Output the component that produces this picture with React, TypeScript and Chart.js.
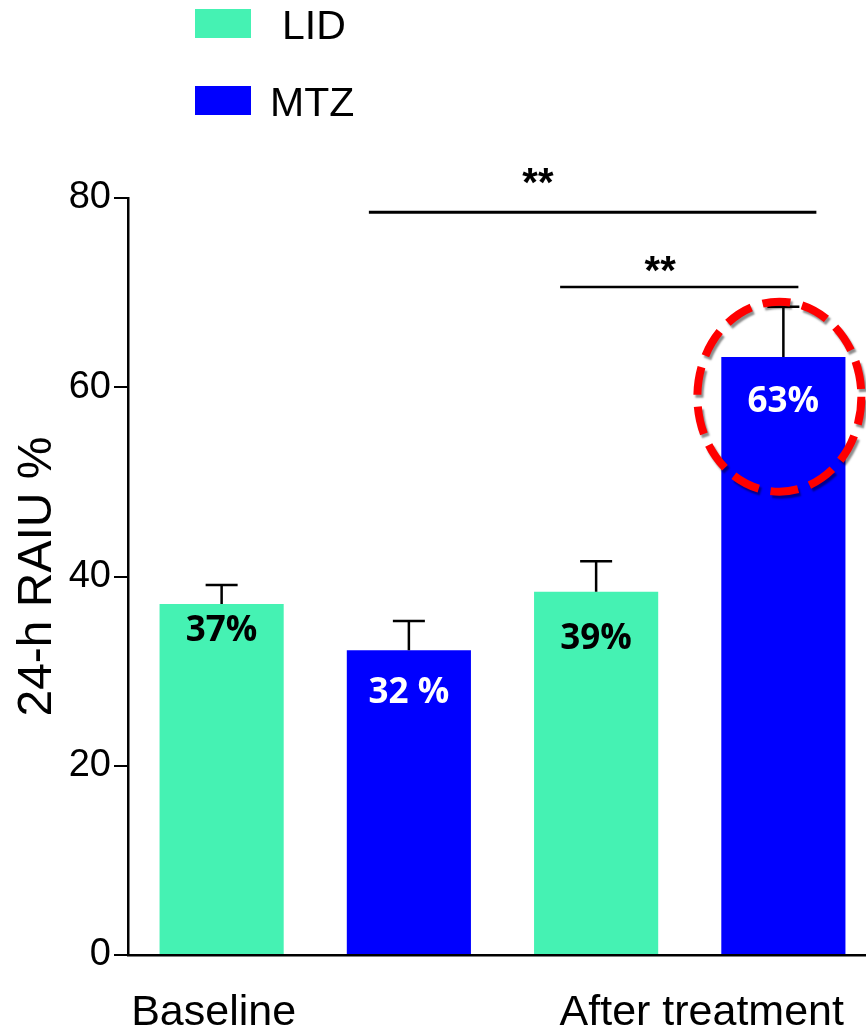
import React, { useEffect, useRef } from 'react';
import { Chart, registerables } from 'chart.js';

Chart.register(...registerables);

const categories = ['Baseline', 'After treatment'];
const seriesNames = ['LID', 'MTZ'];
const lidValues = [37.1, 38.4];
const mtzValues = [32.2, 63.2];
const lidErrors = [2.0, 3.2];
const mtzErrors = [3.1, 5.3];
const lidLabels = ['37%', '39%'];
const mtzLabels = ['32 %', '63%'];
const yTicks = [0, 20, 40, 60, 80];
const sigLevels = [78.5, 70.6];
const sigTexts = ['**', '**'];
const highlightValue = 59.0;

const FONT = "'Liberation Sans', Arial, sans-serif";
const LABEL_FONT = "'Open Sans', 'Noto Sans', sans-serif";
const LID_COLOR = '#45F2B3';
const MTZ_COLOR = '#0000FF';

const annotationsPlugin = {
  id: 'annotations',
  afterDatasetsDraw(chart: any) {
    const ctx = chart.ctx;
    const y = chart.scales.y;
    const errs = [lidErrors, mtzErrors];
    const vals = [lidValues, mtzValues];
    const labels = [lidLabels, mtzLabels];
    const labelColors = ['#000000', '#FFFFFF'];
    const labelOffsets = [[27, 47], [43, 45]];
    ctx.save();
    for (let d = 0; d < 2; d++) {
      const meta = chart.getDatasetMeta(d);
      meta.data.forEach((el: any, i: number) => {
        const top = y.getPixelForValue(vals[d][i] + errs[d][i]);
        ctx.strokeStyle = '#000';
        ctx.lineWidth = 2.5;
        ctx.beginPath();
        ctx.moveTo(el.x, el.y);
        ctx.lineTo(el.x, top);
        ctx.moveTo(el.x - 16, top);
        ctx.lineTo(el.x + 16, top);
        ctx.stroke();
      });
    }
    ctx.textAlign = 'center';
    ctx.textBaseline = 'middle';
    ctx.font = `bold 35px ${LABEL_FONT}`;
    for (let d = 0; d < 2; d++) {
      const meta = chart.getDatasetMeta(d);
      meta.data.forEach((el: any, i: number) => {
        ctx.fillStyle = labelColors[d];
        ctx.fillText(labels[d][i], el.x, el.y + labelOffsets[d][i]);
      });
    }
    ctx.restore();
  },
  afterDraw(chart: any) {
    const ctx = chart.ctx;
    const y = chart.scales.y;
    const x = chart.scales.x;
    const m0 = chart.getDatasetMeta(0).data;
    const m1 = chart.getDatasetMeta(1).data;
    ctx.save();
    const brackets = [
      { x1: m1[0].x - 40, x2: m1[1].x + 33, sx: m1[0].x + 129, gap: 16 },
      { x1: m0[1].x - 36, x2: m1[1].x + 15, sx: m0[1].x + 64, gap: 3 },
    ];
    brackets.forEach((b, i) => {
      const ly = y.getPixelForValue(sigLevels[i]);
      ctx.strokeStyle = '#000';
      ctx.lineWidth = i === 0 ? 3 : 2.5;
      ctx.beginPath();
      ctx.moveTo(b.x1, ly);
      ctx.lineTo(b.x2, ly);
      ctx.stroke();
      ctx.fillStyle = '#000';
      ctx.font = `bold 40px ${FONT}`;
      ctx.textAlign = 'center';
      ctx.textBaseline = 'alphabetic';
      ctx.fillText(sigTexts[i], b.sx, ly - b.gap);
    });
    ctx.font = `43px ${FONT}`;
    ctx.fillStyle = '#000';
    ctx.textAlign = 'center';
    ctx.textBaseline = 'alphabetic';
    const lx = [m0[0].x - 8, x.getPixelForValue(1) + 12];
    categories.forEach((c, i) => {
      ctx.fillText(c, lx[i], chart.chartArea.bottom + 70);
    });
    const colors = [LID_COLOR, MTZ_COLOR];
    const textDx = [31, 19];
    seriesNames.forEach((n, i) => {
      const top = 9 + i * 77;
      ctx.fillStyle = colors[i];
      ctx.fillRect(195, top, 56, 29);
      ctx.fillStyle = '#000';
      ctx.font = `41px ${FONT}`;
      ctx.textAlign = 'left';
      ctx.fillText(n, 251 + textDx[i], top + 30);
    });
    const cx = m1[1].x - 4;
    const cy = y.getPixelForValue(highlightValue);
    ctx.shadowColor = 'rgba(0,0,0,0.45)';
    ctx.shadowOffsetX = 2;
    ctx.shadowOffsetY = 3;
    ctx.shadowBlur = 2;
    ctx.strokeStyle = '#FF0000';
    ctx.lineWidth = 8;
    ctx.setLineDash([28, 12]);
    ctx.beginPath();
    ctx.ellipse(cx, cy, 82, 95, 0, 0, Math.PI * 2);
    ctx.stroke();
    ctx.restore();
  },
};

export default function App() {
  const ref = useRef<HTMLCanvasElement | null>(null);
  useEffect(() => {
    if (!ref.current) return;
    const chart = new Chart(ref.current, {
      type: 'bar',
      data: {
        labels: categories,
        datasets: [
          {
            label: seriesNames[0],
            data: lidValues,
            backgroundColor: LID_COLOR,
            barPercentage: 0.663,
            categoryPercentage: 1.0,
          },
          {
            label: seriesNames[1],
            data: mtzValues,
            backgroundColor: MTZ_COLOR,
            barPercentage: 0.663,
            categoryPercentage: 1.0,
          },
        ],
      },
      options: {
        animation: false,
        responsive: false,
        devicePixelRatio: 1,
        layout: { padding: { left: 0, right: 3, top: 198, bottom: 0 } },
        plugins: {
          legend: { display: false },
          tooltip: { enabled: false },
        },
        scales: {
          x: {
            type: 'category',
            offset: true,
            grid: { display: true, drawOnChartArea: false, drawTicks: false },
            border: { display: true, color: '#000', width: 2.5 },
            ticks: { display: false },
            afterFit: (s: any) => {
              s.height = 76;
            },
          },
          y: {
            min: 0,
            max: 80,
            afterBuildTicks: (s: any) => {
              s.ticks = yTicks.map((v) => ({ value: v }));
            },
            ticks: {
              color: '#000',
              font: { family: FONT, size: 38 },
              padding: 3,
            },
            grid: {
              drawOnChartArea: false,
              drawTicks: true,
              tickLength: 14,
              color: '#000',
              lineWidth: 2,
            },
            border: { display: true, color: '#000', width: 2.5 },
            title: {
              display: true,
              text: '24-h RAIU %',
              color: '#000',
              font: { family: FONT, size: 48 },
              padding: { top: 9, bottom: 0 },
            },
            afterFit: (s: any) => {
              s.width = 128;
            },
          },
        },
      },
      plugins: [annotationsPlugin],
    } as any);
    return () => chart.destroy();
  }, []);
  return (
    <div
      style={{
        position: 'absolute',
        left: 0,
        top: 0,
        width: 866,
        height: 1031,
        overflow: 'hidden',
        background: '#fff',
      }}
    >
      <canvas ref={ref} width={880} height={1031} style={{ display: 'block' }} />
    </div>
  );
}
